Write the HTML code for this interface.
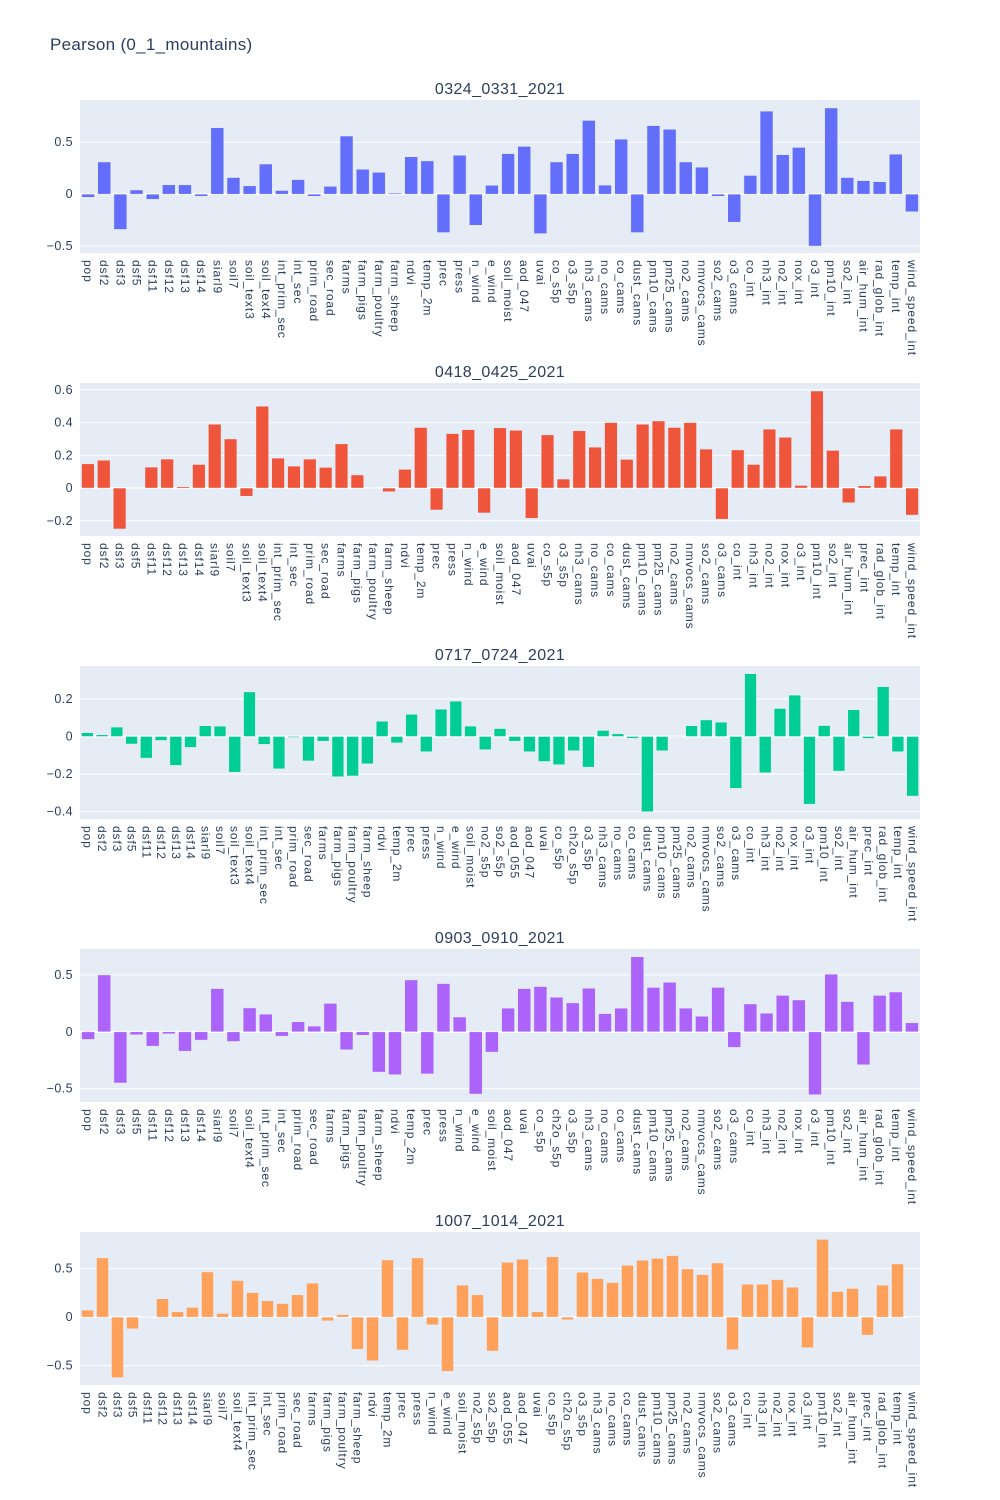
<!DOCTYPE html>
<html><head><meta charset="utf-8">
<style>
html,body{margin:0;padding:0;background:#fff;}
svg{display:block;font-family:"Liberation Sans","DejaVu Sans",sans-serif;}
</style></head>
<body>
<svg id="chart" width="1000" height="1500" viewBox="0 0 1000 1500" xmlns="http://www.w3.org/2000/svg">
<rect x="0" y="0" width="1000" height="1500" fill="#ffffff"/>
<text x="50" y="50" font-size="17" fill="#2a3f5f" letter-spacing="0.3">Pearson (0_1_mountains)</text>
</svg>
<script>
// ---- data ----
const cats1 = ["pop","dsf2","dsf3","dsf5","dsf11","dsf12","dsf13","dsf14","siarl9","soil7","soil_text3","soil_text4","int_prim_sec","int_sec","prim_road","sec_road","farms","farm_pigs","farm_poultry","farm_sheep","ndvi","temp_2m","prec","press","n_wind","e_wind","soil_moist","aod_047","uvai","co_s5p","o3_s5p","nh3_cams","no_cams","co_cams","dust_cams","pm10_cams","pm25_cams","no2_cams","nmvocs_cams","so2_cams","o3_cams","co_int","nh3_int","no2_int","nox_int","o3_int","pm10_int","so2_int","air_hum_int","rad_glob_int","temp_int","wind_speed_int"];
const vals1 = [-0.03,0.31,-0.34,0.04,-0.05,0.09,0.09,-0.02,0.64,0.16,0.08,0.29,0.035,0.14,-0.02,0.075,0.56,0.24,0.21,0.01,0.36,0.32,-0.37,0.375,-0.30,0.085,0.39,0.46,-0.38,0.31,0.39,0.71,0.087,0.53,-0.37,0.66,0.625,0.31,0.26,-0.02,-0.27,0.18,0.80,0.38,0.45,-0.50,0.83,0.16,0.13,0.12,0.385,-0.17];
const ticks1 = [-0.5,0,0.5];

const cats2 = ["pop","dsf2","dsf3","dsf5","dsf11","dsf12","dsf13","dsf14","siarl9","soil7","soil_text3","soil_text4","int_prim_sec","int_sec","prim_road","sec_road","farms","farm_pigs","farm_poultry","farm_sheep","ndvi","temp_2m","prec","press","n_wind","e_wind","soil_moist","aod_047","uvai","co_s5p","o3_s5p","nh3_cams","no_cams","co_cams","dust_cams","pm10_cams","pm25_cams","no2_cams","nmvocs_cams","so2_cams","o3_cams","co_int","nh3_int","no2_int","nox_int","o3_int","pm10_int","so2_int","air_hum_int","prec_int","rad_glob_int","temp_int","wind_speed_int"];
const vals2 = [0.148,0.17,-0.25,0.002,0.128,0.177,0.008,0.144,0.39,0.30,-0.05,0.50,0.183,0.134,0.177,0.126,0.27,0.08,0.002,-0.022,0.114,0.37,-0.134,0.333,0.357,-0.152,0.368,0.353,-0.185,0.325,0.055,0.35,0.25,0.40,0.175,0.39,0.41,0.37,0.40,0.238,-0.19,0.233,0.144,0.36,0.31,0.016,0.593,0.23,-0.09,0.014,0.073,0.36,-0.165];
const ticks2 = [-0.2,0,0.2,0.4,0.6];

const cats3 = ["pop","dsf2","dsf3","dsf5","dsf11","dsf12","dsf13","dsf14","siarl9","soil7","soil_text3","soil_text4","int_prim_sec","int_sec","prim_road","sec_road","farms","farm_pigs","farm_poultry","farm_sheep","ndvi","temp_2m","prec","press","n_wind","e_wind","soil_moist","no2_s5p","so2_s5p","aod_055","aod_047","uvai","co_s5p","ch2o_s5p","o3_s5p","nh3_cams","no_cams","co_cams","dust_cams","pm10_cams","pm25_cams","no2_cams","nmvocs_cams","so2_cams","o3_cams","co_int","nh3_int","no2_int","nox_int","o3_int","pm10_int","so2_int","air_hum_int","prec_int","rad_glob_int","temp_int","wind_speed_int"];
const vals3 = [0.02,0.009,0.05,-0.04,-0.115,-0.021,-0.154,-0.058,0.057,0.055,-0.19,0.237,-0.042,-0.172,-0.005,-0.13,-0.025,-0.214,-0.21,-0.145,0.081,-0.034,0.118,-0.081,0.145,0.188,0.055,-0.07,0.042,-0.025,-0.081,-0.133,-0.15,-0.076,-0.163,0.032,0.014,-0.009,-0.40,-0.076,-0.002,0.057,0.088,0.076,-0.276,0.334,-0.193,0.149,0.22,-0.36,0.058,-0.184,0.142,-0.01,0.265,-0.081,-0.317];
const ticks3 = [-0.4,-0.2,0,0.2];

const cats4 = ["pop","dsf2","dsf3","dsf5","dsf11","dsf12","dsf13","dsf14","siarl9","soil7","soil_text4","int_prim_sec","int_sec","prim_road","sec_road","farms","farm_pigs","farm_poultry","farm_sheep","ndvi","temp_2m","prec","press","n_wind","e_wind","soil_moist","aod_047","uvai","co_s5p","ch2o_s5p","o3_s5p","nh3_cams","no_cams","co_cams","dust_cams","pm10_cams","pm25_cams","no2_cams","nmvocs_cams","so2_cams","o3_cams","co_int","nh3_int","no2_int","nox_int","o3_int","pm10_int","so2_int","air_hum_int","rad_glob_int","temp_int","wind_speed_int"];
const vals4 = [-0.067,0.50,-0.45,-0.026,-0.126,-0.018,-0.17,-0.073,0.38,-0.085,0.21,0.155,-0.038,0.088,0.05,0.25,-0.158,-0.03,-0.354,-0.377,0.456,-0.37,0.424,0.13,-0.547,-0.178,0.208,0.38,0.398,0.304,0.254,0.383,0.16,0.208,0.66,0.39,0.435,0.208,0.137,0.39,-0.137,0.245,0.164,0.32,0.28,-0.553,0.506,0.266,-0.29,0.32,0.35,0.079];
const ticks4 = [-0.5,0,0.5];

const cats5 = ["pop","dsf2","dsf3","dsf5","dsf11","dsf12","dsf13","dsf14","siarl9","soil7","soil_text4","int_prim_sec","int_sec","prim_road","sec_road","farms","farm_pigs","farm_poultry","farm_sheep","ndvi","temp_2m","prec","press","n_wind","e_wind","soil_moist","no2_s5p","so2_s5p","aod_055","aod_047","uvai","co_s5p","ch2o_s5p","o3_s5p","nh3_cams","no_cams","co_cams","dust_cams","pm10_cams","pm25_cams","no2_cams","nmvocs_cams","so2_cams","o3_cams","co_int","nh3_int","no2_int","nox_int","o3_int","pm10_int","so2_int","air_hum_int","prec_int","rad_glob_int","temp_int","wind_speed_int"];
const vals5 = [0.072,0.61,-0.623,-0.12,0.004,0.19,0.055,0.1,0.466,0.038,0.377,0.253,0.168,0.14,0.23,0.35,-0.038,0.027,-0.332,-0.449,0.589,-0.339,0.61,-0.079,-0.558,0.329,0.23,-0.349,0.565,0.596,0.055,0.623,-0.027,0.462,0.397,0.356,0.534,0.586,0.606,0.634,0.497,0.438,0.558,-0.336,0.339,0.339,0.387,0.308,-0.315,0.801,0.264,0.295,-0.185,0.329,0.548,-0.005];
const ticks5 = [-0.5,0,0.5];

const titles = ["0324_0331_2021","0418_0425_2021","0717_0724_2021","0903_0910_2021","1007_1014_2021"];

// ---- layout (not data) ----
const NS = "http://www.w3.org/2000/svg";
const svg = document.getElementById('chart');
const X0 = 80, X1 = 920;
const panels = [
  {cats:cats1, vals:vals1, ticks:ticks1, top:100, bottom:253, ymin:-0.567, ymax:0.907, color:"#636efa"},
  {cats:cats2, vals:vals2, ticks:ticks2, top:383, bottom:536, ymin:-0.293, ymax:0.642, color:"#ef553b"},
  {cats:cats3, vals:vals3, ticks:ticks3, top:666, bottom:819, ymin:-0.439, ymax:0.375, color:"#00cc96"},
  {cats:cats4, vals:vals4, ticks:ticks4, top:949, bottom:1102, ymin:-0.617, ymax:0.728, color:"#ab63fa"},
  {cats:cats5, vals:vals5, ticks:ticks5, top:1232, bottom:1385, ymin:-0.699, ymax:0.877, color:"#ffa15a"}
];

function mk(tag, attrs){
  const e = document.createElementNS(NS, tag);
  for (const k in attrs) e.setAttribute(k, attrs[k]);
  return e;
}

panels.forEach((p, pi) => {
  const g = mk('g', {});
  
  
  svg.appendChild(g);
  const n = p.cats.length;
  const step = (X1 - X0) / n;
  const xc = i => X0 + step * (i + 0.5);
  const y = v => p.bottom - (v - p.ymin) / (p.ymax - p.ymin) * (p.bottom - p.top);

  const bg = mk('rect', {x:X0, y:p.top, width:X1-X0, height:p.bottom-p.top, fill:'#e5ecf6'});
  
  
  g.appendChild(bg);

  p.ticks.forEach(t => {
    const ty = y(t);
    const gl = mk('line', {x1:X0, x2:X1, y1:ty, y2:ty, stroke:'#ffffff', 'stroke-width': t===0 ? 2 : 1});
    
    
    g.appendChild(gl);
    const tl = mk('text', {x:X0-7, y:ty+4, 'text-anchor':'end', 'font-size':12.5, fill:'#2a3f5f', 'letter-spacing':0.4});
    
    
    tl.textContent = (t < 0 ? '\u2212' + Math.abs(t) : String(t));
    g.appendChild(tl);
  });

  const y0 = y(0);
  const bw = step * 0.8;
  p.vals.forEach((v, i) => {
    const yv = y(v);
    const r = mk('rect', {x:xc(i)-bw/2, y:Math.min(yv,y0), width:bw, height:Math.max(Math.abs(yv-y0),0.5), fill:p.color, stroke:'#e5ecf6', 'stroke-width':0.5});
    
    
    g.appendChild(r);
  });

  p.cats.forEach((c, i) => {
    const lx = xc(i), ly = p.bottom + 7;
    const t = mk('text', {x:lx, y:ly, 'font-size':12, fill:'#2a3f5f', 'letter-spacing':0.9, 'dominant-baseline':'central', transform:'rotate(90 '+lx+' '+ly+')'});
    
    
    t.textContent = c;
    g.appendChild(t);
  });

  const st = mk('text', {x:500, y:p.top-6, 'text-anchor':'middle', 'font-size':16, fill:'#2a3f5f', 'letter-spacing':0.4});
  
  
  st.textContent = titles[pi];
  g.appendChild(st);
});
</script>
</body></html>
